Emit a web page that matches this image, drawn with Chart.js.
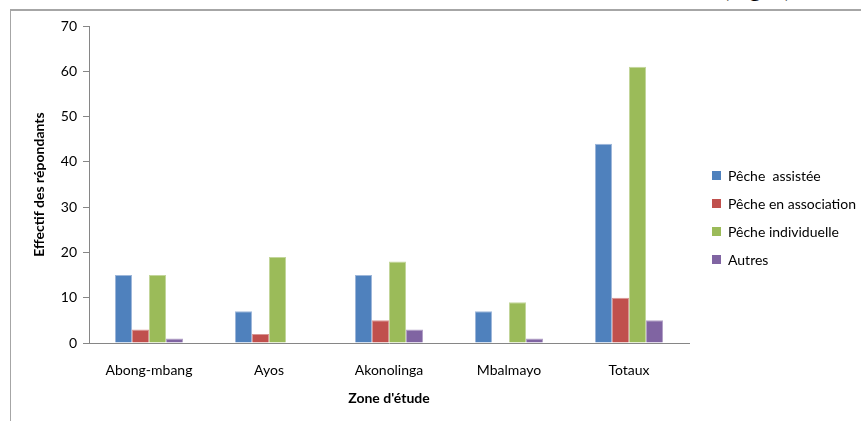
<!DOCTYPE html>
<html>
<head>
<meta charset="utf-8">
<script src="https://cdn.jsdelivr.net/npm/chart.js@4"></script>
<style>
  html, body { margin: 0; padding: 0; background: #fff; overflow: hidden; }
  #wrap { position: relative; width: 861px; height: 421px; overflow: hidden; }
  #frame { position: absolute; left: 10px; top: 9px; width: 860px; height: 420px;
           border-left: 1px solid #a6a6a6; border-top: 2px solid #a6a6a6; box-sizing: border-box; background: #fff; }
  #fig { position: absolute; left: 721px; top: -25px; font: 24px "Liberation Serif", serif; color: #000; }
  #chart { position: absolute; left: 0; top: 0; }
  #legend { position: absolute; left: 712px; top: 161px; font: 14px Lato, sans-serif; color: #000; }
  #legend div { height: 28px; display: flex; align-items: center; white-space: pre; }
  #legend span { display: inline-block; width: 9px; height: 9px; margin-right: 7px; }
</style>
</head>
<body>
<div id="wrap">
  <div id="fig">(Fig. 2)</div>
  <div id="frame"></div>
  <canvas id="chart" width="861" height="421"></canvas>
  <div id="legend"></div>
</div>
<script>
const zones = ['Abong-mbang', 'Ayos', 'Akonolinga', 'Mbalmayo', 'Totaux'];
const assistee = [15, 7, 15, 7, 44];
const association = [3, 2, 5, 0, 10];
const individuelle = [15, 19, 18, 9, 61];
const autres = [1, 0, 3, 1, 5];

const seriesNames = ['Pêche  assistée', 'Pêche en association', 'Pêche individuelle', 'Autres'];
const colors = ['#4F81BD', '#C0504D', '#9BBB59', '#8064A2'];
const edges = ['#9DB7DA', '#D99694', '#C3D69B', '#B3A2C7'];
const yTicks = [0, 10, 20, 30, 40, 50, 60, 70];

const font = { family: 'Lato, sans-serif', size: 14 };
const boldFont = { family: 'Lato, sans-serif', size: 14, weight: 'bold' };

const datasets = [assistee, association, individuelle, autres].map((d, i) => ({
  label: seriesNames[i],
  data: d,
  backgroundColor: colors[i],
  borderColor: edges[i],
  borderWidth: 1,
  categoryPercentage: 0.567,
  barPercentage: 1
}));

const legendEl = document.getElementById('legend');
seriesNames.forEach((n, i) => {
  const row = document.createElement('div');
  row.innerHTML = '<span style="background:' + colors[i] + '"></span>' + n;
  legendEl.appendChild(row);
});

new Chart(document.getElementById('chart'), {
  type: 'bar',
  data: { labels: zones, datasets },
  options: {
    responsive: false,
    animation: false,
    layout: { padding: { left: 10, top: 26, right: 172, bottom: 0 } },
    plugins: { legend: { display: false }, tooltip: { enabled: false } },
    scales: {
      x: {
        grid: { display: false },
        border: { color: '#868686', width: 1 },
        ticks: { color: '#000', font, padding: 11, maxRotation: 0 },
        title: { display: true, text: "Zone d'étude", color: '#000', font: boldFont, padding: { top: 0, bottom: 14 } },
        afterFit: s => { s.height = 78; }
      },
      y: {
        min: 0, max: 70,
        afterBuildTicks: s => { s.ticks = yTicks.map(v => ({ value: v })); },
        grid: { drawOnChartArea: false, tickLength: 6, color: '#868686' },
        border: { color: '#868686', width: 1 },
        ticks: { color: '#000', font, padding: 6 },
        title: { display: true, text: 'Effectif des répondants', color: '#000', font: boldFont, padding: { top: 21, bottom: 0 } },
        afterFit: s => { s.width = 79; }
      }
    }
  }
});
</script>
</body>
</html>
